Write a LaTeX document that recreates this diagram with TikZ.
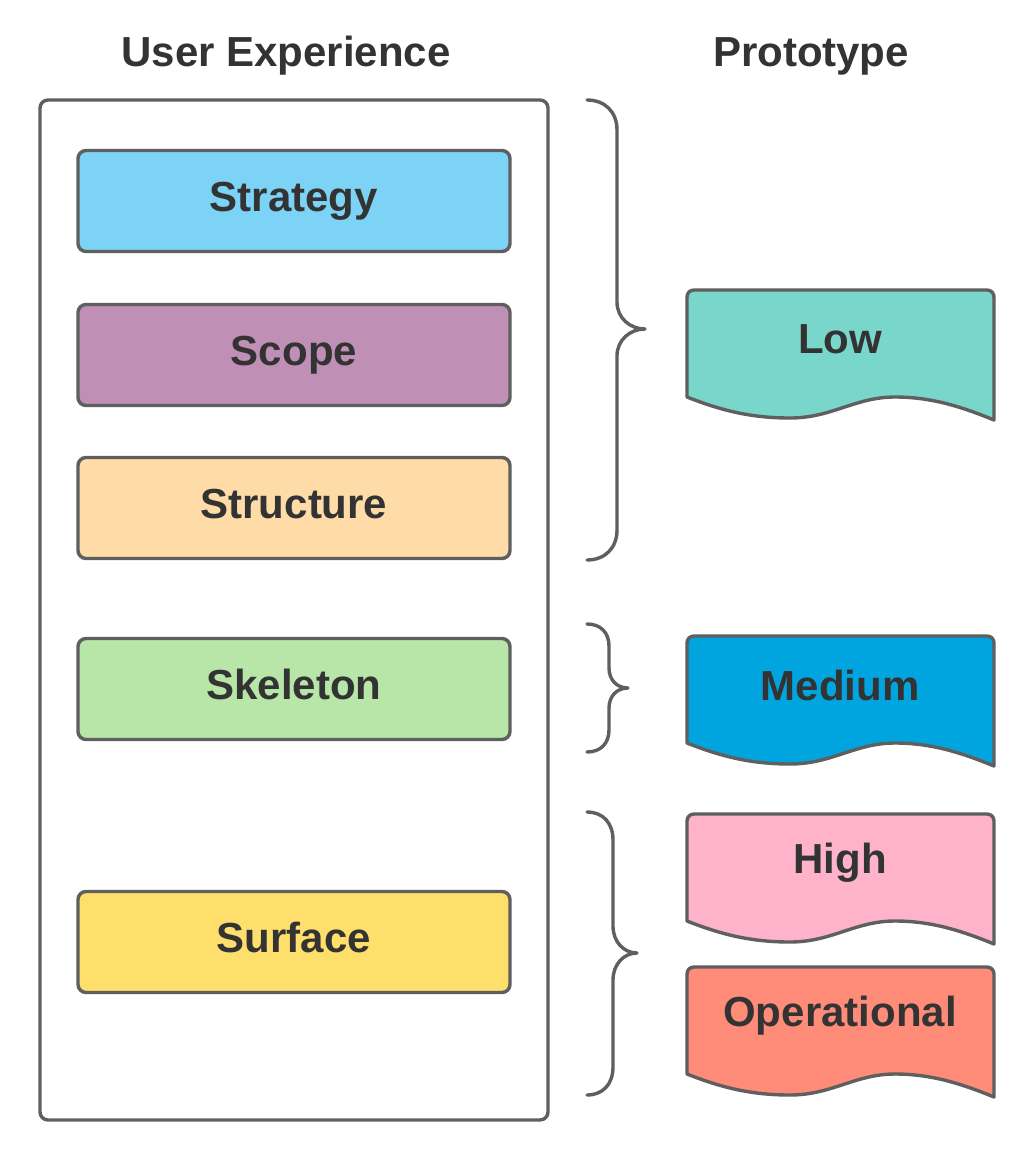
\documentclass[tikz,border=0pt]{standalone}
\usepackage{fontspec}
\setmainfont{Liberation Sans}
\definecolor{edge}{HTML}{5F5F5F}
\definecolor{txt}{HTML}{333333}
\definecolor{cStrategy}{HTML}{7CD3F6}
\definecolor{cScope}{HTML}{BF8FB5}
\definecolor{cStructure}{HTML}{FFDBA8}
\definecolor{cSkeleton}{HTML}{B7E6A8}
\definecolor{cSurface}{HTML}{FFDF6C}
\definecolor{cLow}{HTML}{79D6CB}
\definecolor{cMedium}{HTML}{00A5DF}
\definecolor{cHigh}{HTML}{FFB3CA}
\definecolor{cOper}{HTML}{FF8C79}
\tikzset{
  edgeline/.style={draw=edge, line width=3.4pt, line join=round, line cap=round},
  bigfont/.style={font=\fontsize{42}{48}\selectfont\bfseries, text=txt},
  uxbox/.style={edgeline, rounded corners=8pt, minimum width=432pt, minimum height=101pt, inner sep=0pt,
     bigfont, text height=30pt, text depth=9pt},
  title/.style={bigfont, inner sep=0pt},
  doclabel/.style={bigfont, inner sep=0pt},
  bracepath/.style={edgeline}
}
\newcommand{\protodoc}[4]{%
  \draw[edgeline, fill=#3] (687,#2+107) -- (687,#2+7)
    .. controls (687,#2+3) and (690,#2) .. (694,#2) -- (987,#2)
    .. controls (991,#2) and (994,#2+3) .. (994,#2+7) -- (994,#2+130)
    .. controls (960,#2+116) and (930,#2+107) .. (895,#2+107)
    .. controls (855,#2+107) and (832,#2+128) .. (790,#2+128)
    .. controls (750,#2+128) and (720,#2+120) .. (687,#2+107) -- cycle;
  \node[doclabel] (#1) at (840,#2+49) {#4};
}
\begin{document}
\begin{tikzpicture}[x=1pt,y=-1pt]
\useasboundingbox (0,0) rectangle (1024,1152);
\fill[white] (0,0) rectangle (1024,1152);
% titles
\node[title] (uxtitle) at (286,56) {User Experience};
\node[title] (prototitle) at (811,56) {Prototype};
% outer frame
\draw[edgeline, rounded corners=8pt] (40,100) rectangle (548,1120);
\node[inner sep=0pt, minimum width=508pt, minimum height=1020pt] (frame) at (294,610) {};
% UX layers
\node[uxbox, fill=cStrategy]  (strategy)  at (294,201) {Strategy};
\node[uxbox, fill=cScope]     (scope)     at (294,355) {Scope};
\node[uxbox, fill=cStructure] (structure) at (294,508) {Structure};
\node[uxbox, fill=cSkeleton]  (skeleton)  at (294,689) {Skeleton};
\node[uxbox, fill=cSurface]   (surface)   at (294,942) {Surface};
% braces
\draw[bracepath] (587,100) .. controls (605,100) and (617,112) .. (617,130) -- (617,302)
  .. controls (617,318) and (630,329) .. (645,329)
  .. controls (630,329) and (617,340) .. (617,356) -- (617,530)
  .. controls (617,548) and (605,560) .. (587,560);
\draw[bracepath] (587,624) .. controls (601,624) and (609,633) .. (609,646) -- (609,668)
  .. controls (609,680) and (617,688) .. (628,688)
  .. controls (617,688) and (609,696) .. (609,708) -- (609,730)
  .. controls (609,743) and (601,752) .. (587,752);
\draw[bracepath] (587,812) .. controls (603,812) and (613,823) .. (613,840) -- (613,926)
  .. controls (613,942) and (624,953) .. (637,953)
  .. controls (624,953) and (613,964) .. (613,980) -- (613,1067)
  .. controls (613,1084) and (603,1095) .. (587,1095);
% prototype documents
\protodoc{low}{290}{cLow}{Low}
\protodoc{medium}{636}{cMedium}{Medium}
\protodoc{high}{814}{cHigh}{High}
\protodoc{oper}{967}{cOper}{Operational}
\end{tikzpicture}
\end{document}
